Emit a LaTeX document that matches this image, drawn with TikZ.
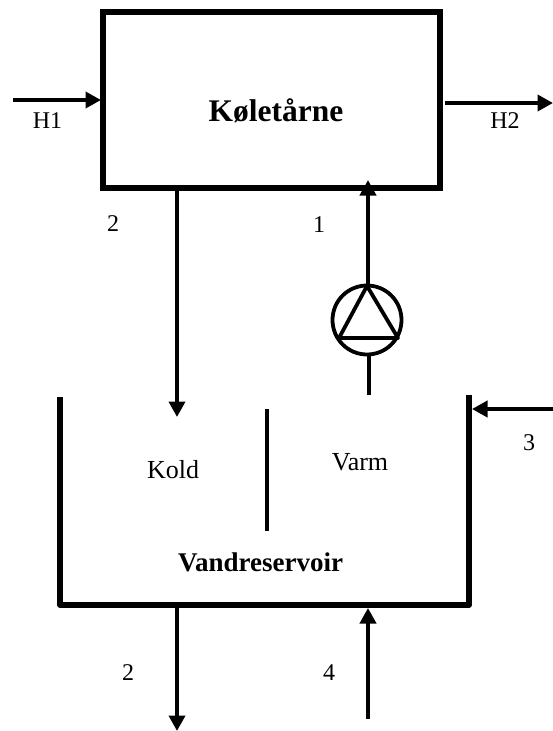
\documentclass[tikz,border=0pt]{standalone}
\usepackage{fontspec}
\setmainfont{Liberation Serif}
\usetikzlibrary{arrows.meta}
\tikzset{
  flow/.style={line width=3.8pt,-{Triangle[length=15.5pt,width=16pt]}},
  plainline/.style={line width=3.8pt},
  wall/.style={line width=5.4pt,line cap=butt},
  lab/.style={inner sep=0pt,font=\fontsize{24}{24}\selectfont},
  boldlab/.style={inner sep=0pt,font=\bfseries\fontsize{27}{27}\selectfont},
  tower/.style={draw,line width=6pt,minimum width=336.5pt,minimum height=176pt,inner sep=0pt,outer sep=3pt},
  pump/.style={draw,circle,line width=3.8pt,minimum size=69pt,inner sep=0pt,outer sep=1.9pt}
}
\begin{document}
\begin{tikzpicture}[x=1pt,y=-1pt]
\useasboundingbox (0,0) rectangle (553,731);
\node[tower] (tower) at (271.7,100.3) {};
\node[boldlab,font=\bfseries\fontsize{31.5}{31.5}\selectfont] (towertext) at (276,111) {Køletårne};
\node[pump] (pump) at (367,320) {};
% pump triangle
\coordinate (ta) at (367,286);
\coordinate (tb) at (339,338);
\coordinate (tc) at (398,338);
\draw[line width=3.8pt,line join=round] (ta) -- (tb) -- (tc) -- cycle;
% reservoir
\coordinate (rtl) at (60,397);
\coordinate (rbl) at (60,605);
\coordinate (rbr) at (469,605);
\coordinate (rtr) at (469,395);
\draw[wall,line join=round] (rtl) -- (rbl) -- (rbr) -- (rtr);
\coordinate (da) at (267,409);
\coordinate (db) at (267,531);
\draw[line width=3.6pt] (da) -- (db);
% free ends
\coordinate (h1s) at (13,100);
\coordinate (h1e) at (101,100);
\coordinate (h2s) at (445,103);
\coordinate (h2e) at (553,103);
\coordinate (c2s) at (177,190);
\coordinate (c2e) at (177,417);
\coordinate (c1e) at (368,180);
\coordinate (c1s) at (368,285);
\coordinate (stubs) at (369,395);
\coordinate (stube) at (369,356);
\coordinate (c3s) at (553,409);
\coordinate (c3e) at (472,409);
\coordinate (o2s) at (177,607);
\coordinate (o2e) at (177,731);
\coordinate (c4s) at (368,719);
\coordinate (c4e) at (368,608);
\draw[flow] (h1s) -- (h1e);
\draw[flow] (h2s) -- (h2e);
\draw[flow] (c2s) -- (c2e);
\draw[flow] (c1s) -- (c1e);
\draw[plainline] (stubs) -- (stube);
\draw[flow] (c3s) -- (c3e);
\draw[flow] (o2s) -- (o2e);
\draw[flow] (c4s) -- (c4e);
% labels
\node[lab] (lh1) at (47.5,121) {H1};
\node[lab] (lh2) at (505,121) {H2};
\node[lab] (l2a) at (113,224) {2};
\node[lab] (l1) at (319,225) {1};
\node[lab] (l3) at (529,443) {3};
\node[lab] (l2b) at (128,673) {2};
\node[lab] (l4) at (329,673) {4};
\node[lab,font=\fontsize{26}{26}\selectfont] (lk) at (173,470) {Kold};
\node[lab,font=\fontsize{26}{26}\selectfont] (lv) at (360,462) {Varm};
\node[boldlab] (lr) at (260.5,562) {Vandreservoir};
\end{tikzpicture}
\end{document}
